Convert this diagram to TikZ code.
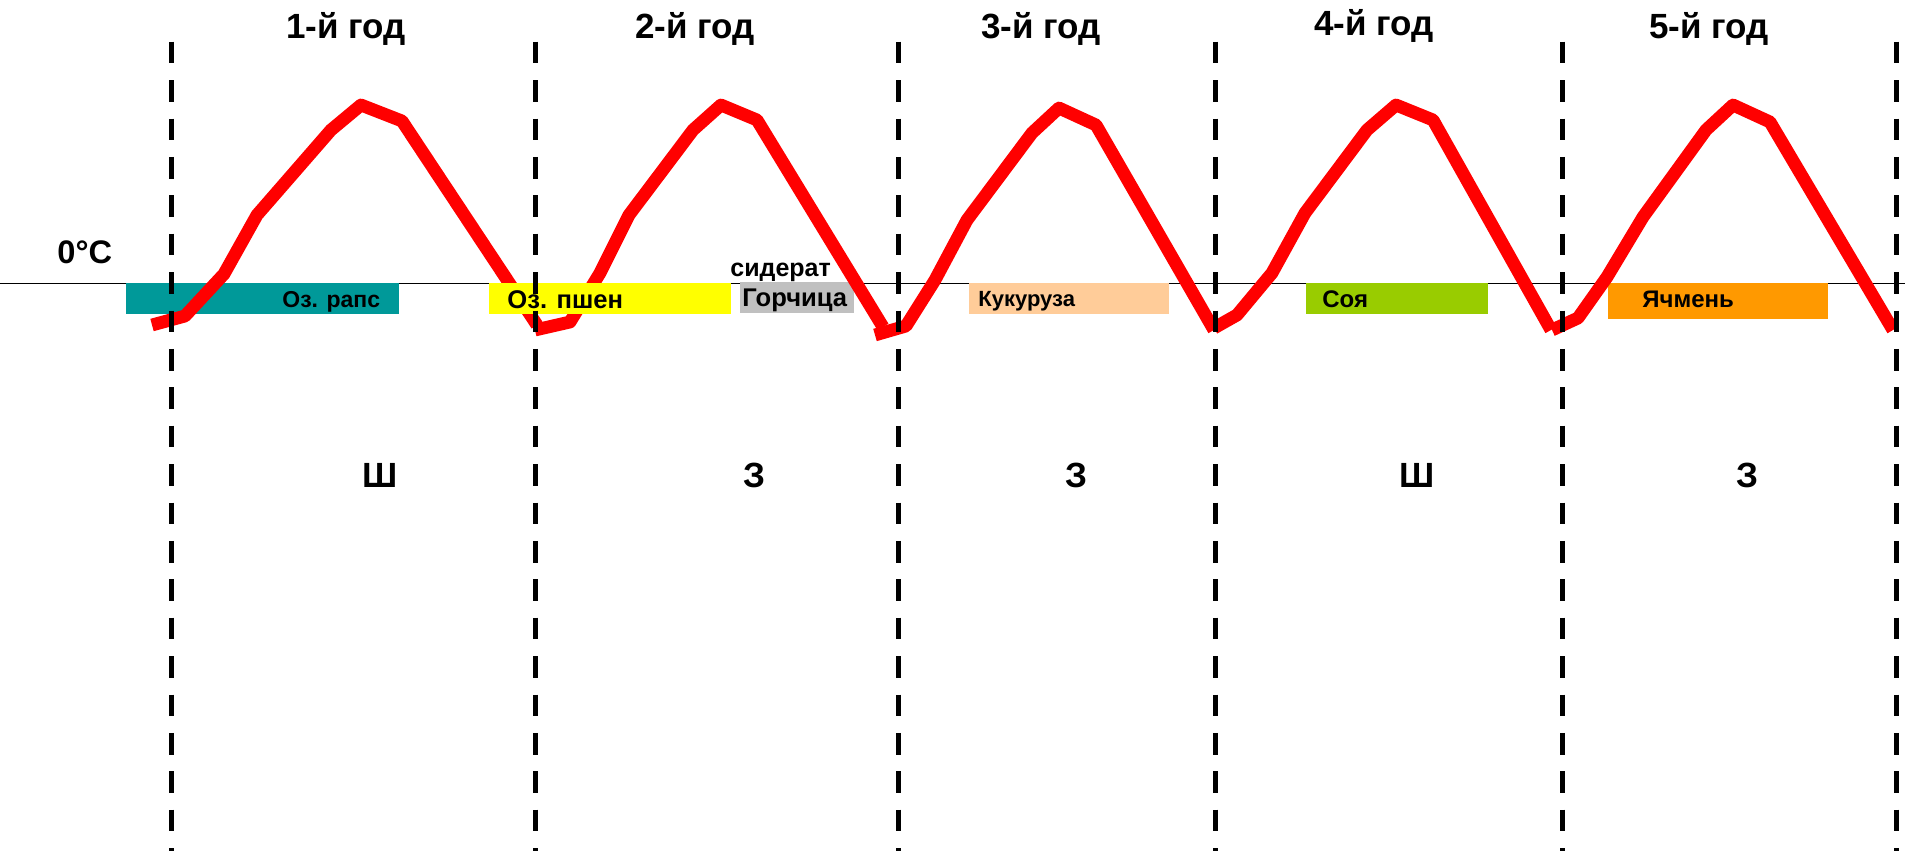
\documentclass[tikz,border=0pt]{standalone}
\usepackage{fontspec}
\setmainfont{Liberation Sans}
\definecolor{teal1}{HTML}{009999}
\definecolor{yellow1}{HTML}{FFFF00}
\definecolor{gray1}{HTML}{C0C0C0}
\definecolor{peach1}{HTML}{FFCC99}
\definecolor{green1}{HTML}{99CC00}
\definecolor{orange1}{HTML}{FF9900}
\begin{document}
\begin{tikzpicture}[x=0.5pt, y=-0.5pt,
    yearlabel/.style={font=\fontsize{17.5}{20}\selectfont\bfseries, anchor=base, inner sep=0pt},
    croplabel/.style={font=\fontsize{12.5}{14}\selectfont\bfseries, anchor=base west, inner sep=0pt},
    seasonlabel/.style={font=\fontsize{17.5}{20}\selectfont\bfseries, anchor=base, inner sep=0pt},
    temp/.style={red, line width=6.4pt, line join=round},
    border/.style={line width=2.5pt, dash pattern=on 10.85pt off 8.35pt}]
    \useasboundingbox (0,0) rectangle (1905,851);

    % Zero line
    \draw[line width=0.7pt] (0,283.3) -- (1905,283.3);

    % Crop bars under the curve
    \fill[teal1] (126,282.7) rectangle (399,313.7);
    \fill[gray1] (740,282) rectangle (853.5,312.7);
    \fill[peach1] (969,283.3) rectangle (1169,314.3);
    \fill[green1] (1306,283.3) rectangle (1487.5,313.7);
    \fill[orange1] (1608,283.3) rectangle (1828,319);

    % Temperature curve, one piece per year
    \draw[temp] (152,325) -- (185,316) -- (224,274) -- (257,215) -- (331,130) -- (361,105) -- (402,121) -- (537,325);
    \draw[temp] (535,330) -- (570,322) -- (600,273) -- (629,215) -- (693,130) -- (721,105) -- (757,120) -- (883,327);
    \draw[temp] (875,335) -- (906,326) -- (935,280) -- (967,220) -- (1032,133) -- (1059,108) -- (1096,125) -- (1214,330);
    \draw[temp] (1214,328) -- (1237,315) -- (1272,273) -- (1305,213) -- (1367,130) -- (1396,105) -- (1433,120) -- (1551,330);
    \draw[temp] (1552,330) -- (1578,318) -- (1607,277) -- (1643,217) -- (1706,130) -- (1733,105) -- (1770,122) -- (1893,330);

    % Winter wheat bar lies over the curve
    \fill[yellow1] (489,282.7) rectangle (730.6,314.3);

    % Year borders
    \draw[border] (171,41.7) -- (171,851);
    \draw[border] (535,41.7) -- (535,851);
    \draw[border] (898,41.7) -- (898,851);
    \draw[border] (1215,41.7) -- (1215,851);
    \draw[border] (1562,41.7) -- (1562,851);
    \draw[border] (1896,41.7) -- (1896,851);

    % Years
    \node[yearlabel] (y1) at (346,38.3) {1-й год};
    \node[yearlabel] (y2) at (695,38.3) {2-й год};
    \node[yearlabel] (y3) at (1041,38.3) {3-й год};
    \node[yearlabel] (y4) at (1374,35) {4-й год};
    \node[yearlabel] (y5) at (1709,38.3) {5-й год};

    \node[font=\fontsize{16.3}{18}\selectfont\bfseries, anchor=base west, inner sep=0pt] (zero) at (57,263) {0°C};

    % Crops
    \node[croplabel, font=\fontsize{11.5}{13}\selectfont\bfseries] (raps) at (282,307) {Оз. рапс};
    \node[croplabel, font=\fontsize{12.8}{14}\selectfont\bfseries] (pshen) at (507,308.5) {Оз. пшен};
    \node[croplabel] (siderat) at (730,276) {сидерат};
    \node[croplabel, font=\fontsize{12.8}{14}\selectfont\bfseries] (gorch) at (742,306.7) {Горчица};
    \node[croplabel, font=\fontsize{11}{13}\selectfont\bfseries] (kuk) at (978,306.7) {Кукуруза};
    \node[croplabel, font=\fontsize{12}{14}\selectfont\bfseries] (soya) at (1322,307.3) {Соя};
    \node[croplabel, font=\fontsize{12}{14}\selectfont\bfseries] (yachm) at (1642,307.3) {Ячмень};

    % Ш / З
    \node[seasonlabel] (s1) at (380,487.5) {Ш};
    \node[seasonlabel] (s2) at (754,487.5) {З};
    \node[seasonlabel] (s3) at (1076,487.5) {З};
    \node[seasonlabel] (s4) at (1417,487.5) {Ш};
    \node[seasonlabel] (s5) at (1747,487.5) {З};
\end{tikzpicture}
\end{document}
